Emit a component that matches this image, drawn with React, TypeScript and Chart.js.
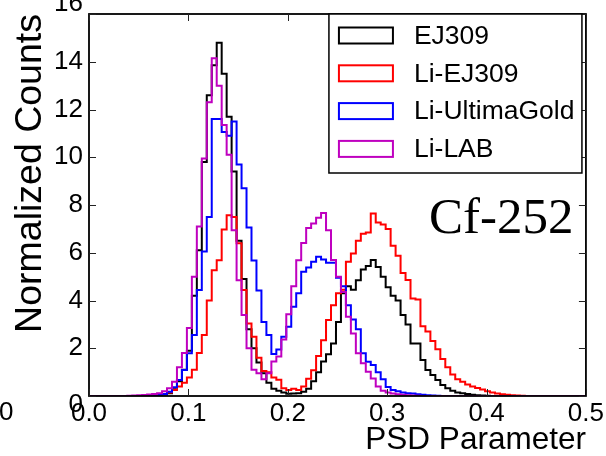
import React, { useEffect, useRef } from 'react';
import { Chart, registerables } from 'chart.js';

Chart.register(...registerables);

// Histogram binning (left edge of first bin, bin width)
const BIN_START = 0.0035;
const BIN_WIDTH = 0.005;

const X_TICKS = [0, 0.1, 0.2, 0.3, 0.4, 0.5];
const Y_TICKS = [0, 2, 4, 6, 8, 10, 12, 14, 16];

const SERIES_NAMES = ['EJ309', 'Li-EJ309', 'Li-UltimaGold', 'Li-LAB'];
const SERIES_COLORS = ['#000000', '#ff0000', '#0000ff', '#bf00bf'];

const EJ309 = [
  0, 0, 0, 0, 0, 0, 0, 0, 0, 0, 0,
  0.01, 0.02, 0.03, 0.06, 0.12, 0.28, 0.62, 1.1, 1.9,
  4.2, 6.1, 9.8, 12.6, 13.85, 14.8, 13.5, 11.7, 9.4, 6.5,
  4.9, 2.8, 2.0, 1.4, 0.95, 0.55, 0.3, 0.22, 0.15, 0.09,
  0.1, 0.12, 0.18, 0.3, 0.62, 1.0, 1.45, 1.75, 2.2, 3.1,
  4.3, 4.6, 4.45, 4.85, 5.3, 5.45, 5.7, 5.4, 5.0, 4.55,
  4.2, 4.0, 3.39, 3.0, 2.2, 2.2, 1.51, 1.09, 0.88, 0.67,
  0.46, 0.32, 0.22, 0.15, 0.11, 0.08, 0.05, 0.03, 0.02, 0.01,
  0, 0, 0, 0, 0, 0, 0, 0, 0, 0,
];

const LI_EJ309 = [
  0, 0, 0, 0, 0, 0, 0, 0, 0, 0, 0,
  0.01, 0.02, 0.04, 0.08, 0.15, 0.25, 0.4, 0.55, 0.78,
  1.1, 1.8, 2.55, 4.0, 5.27, 5.69, 6.97, 7.57, 7.5, 6.4,
  4.44, 3.04, 2.48, 1.6, 1.05, 1.0, 0.78, 0.68, 0.32, 0.25,
  0.3, 0.25, 0.4, 0.72, 1.08, 1.68, 2.34, 3.18, 3.8, 4.3,
  4.45, 5.62, 5.97, 6.5, 6.8, 6.85, 7.64, 7.27, 7.18, 6.99,
  6.29, 5.87, 5.15, 4.86, 4.08, 4.04, 2.92, 2.7, 2.3, 1.96,
  1.55, 1.2, 0.9, 0.7, 0.6, 0.48, 0.4, 0.33, 0.27, 0.2,
  0.15, 0.1, 0.07, 0.05, 0.03, 0.02, 0.01, 0, 0, 0,
];

const LI_ULTIMAGOLD = [
  0, 0, 0, 0, 0, 0, 0, 0, 0, 0, 0,
  0.01, 0.02, 0.04, 0.08, 0.18, 0.37, 0.67, 1.09, 1.79,
  2.55, 4.44, 6.05, 7.5, 11.6, 11.6, 11.06, 10.9, 11.5, 9.7,
  8.7, 7.06, 5.68, 4.42, 3.1, 2.55, 1.76, 1.95, 2.48, 2.9,
  3.74, 4.3, 5.2, 5.38, 5.62, 5.83, 5.72, 5.58, 5.58, 4.95,
  4.6, 3.8, 3.2, 2.8, 1.79, 1.43, 1.3, 1.0, 0.7, 0.38,
  0.25, 0.2, 0.15, 0.12, 0.1, 0.07, 0.05, 0.03, 0.02, 0.01,
  0, 0, 0, 0, 0, 0, 0, 0, 0, 0,
  0, 0, 0, 0, 0, 0, 0, 0, 0, 0,
];

const LI_LAB = [
  0, 0, 0, 0, 0, 0, 0,
  0.01, 0.02, 0.03, 0.04,
  0.06, 0.08, 0.12, 0.2, 0.32, 0.6, 1.2, 1.8, 2.85,
  5.0, 7.1, 9.95, 12.3, 14.15, 13.0, 11.35, 10.1, 6.94, 4.85,
  3.39, 2.0, 1.1, 0.95, 0.7, 0.95, 1.44, 1.65, 2.37, 3.42,
  4.6, 5.69, 6.41, 7.04, 7.22, 7.47, 7.67, 6.94, 5.7, 5.0,
  4.36, 3.32, 2.62, 1.79, 1.37, 1.02, 0.73, 0.4, 0.22, 0.15,
  0.1, 0.07, 0.05, 0.03, 0.02, 0.01, 0, 0, 0, 0,
  0, 0, 0, 0, 0, 0, 0, 0, 0, 0,
  0, 0, 0, 0, 0, 0, 0, 0, 0, 0,
];

const SERIES_VALUES = [EJ309, LI_EJ309, LI_ULTIMAGOLD, LI_LAB];

const ANNOTATION = 'Cf-252';
const X_TITLE = 'PSD Parameter';
const Y_TITLE = 'Normalized Counts';

const SANS = '"Liberation Sans", Arial, Helvetica, sans-serif';
const SERIF = '"Liberation Serif", "Times New Roman", serif';

function toSteps(vals: number[]) {
  const pts: { x: number; y: number }[] = [{ x: 0, y: 0 }];
  vals.forEach((v, k) => pts.push({ x: BIN_START + k * BIN_WIDTH, y: v }));
  pts.push({ x: BIN_START + vals.length * BIN_WIDTH, y: 0 });
  pts.push({ x: 0.5, y: 0 });
  return pts;
}

const TICK_LEN = 7;

const overlay = {
  id: 'overlay',
  afterDatasetsDraw(chart: any) {
    const { ctx, chartArea: a, scales } = chart;
    const xs = scales.x;
    const ys = scales.y;
    ctx.save();
    // frame
    ctx.strokeStyle = '#000';
    ctx.lineWidth = 1.8;
    ctx.strokeRect(a.left, a.top, a.right - a.left, a.bottom - a.top);
    // inward ticks on all sides
    ctx.lineWidth = 1;
    ctx.strokeStyle = '#222';
    ctx.beginPath();
    for (const t of X_TICKS) {
      const px = Math.round(xs.getPixelForValue(t)) + 0.5;
      ctx.moveTo(px, a.bottom);
      ctx.lineTo(px, a.bottom - TICK_LEN);
      ctx.moveTo(px, a.top);
      ctx.lineTo(px, a.top + TICK_LEN);
    }
    for (const t of Y_TICKS) {
      const py = Math.round(ys.getPixelForValue(t)) + 0.5;
      ctx.moveTo(a.left, py);
      ctx.lineTo(a.left + TICK_LEN, py);
      ctx.moveTo(a.right, py);
      ctx.lineTo(a.right - TICK_LEN, py);
    }
    ctx.stroke();

    // y tick labels
    ctx.fillStyle = '#000';
    ctx.font = `26px ${SANS}`;
    ctx.textAlign = 'right';
    ctx.textBaseline = 'middle';
    for (const t of Y_TICKS) {
      let py = ys.getPixelForValue(t);
      if (t === Y_TICKS[0]) py += 9;
      if (t === Y_TICKS[Y_TICKS.length - 1]) py -= 10;
      ctx.fillText(String(t), a.left - 6, py);
    }
    // clipped neighbour label at far left
    ctx.textAlign = 'left';
    ctx.fillText('0', -1, ys.getPixelForValue(0) + 17);

    // legend
    const lx0 = a.right - 257;
    const ly0 = a.top;
    const lw = 253;
    const lh = 159;
    ctx.fillStyle = '#fff';
    ctx.fillRect(lx0, ly0, lw, lh);
    ctx.strokeStyle = '#000';
    ctx.lineWidth = 1.5;
    ctx.strokeRect(lx0, ly0, lw, lh);
    ctx.font = `26.5px ${SANS}`;
    ctx.textAlign = 'left';
    ctx.textBaseline = 'middle';
    SERIES_NAMES.forEach((name, i) => {
      const cy = ly0 + 21.5 + 37.8 * i;
      ctx.strokeStyle = SERIES_COLORS[i];
      ctx.lineWidth = 2;
      ctx.strokeRect(lx0 + 10, cy - 8, 54, 16);
      ctx.fillStyle = '#000';
      ctx.fillText(name, lx0 + 85, cy + 1);
    });

    // annotation
    ctx.font = `51px ${SERIF}`;
    ctx.textAlign = 'left';
    ctx.textBaseline = 'alphabetic';
    ctx.fillStyle = '#000';
    ctx.fillText(ANNOTATION, a.right - 157, a.top + 219);
    ctx.restore();
  },
};

export default function App() {
  const ref = useRef<HTMLCanvasElement>(null);
  useEffect(() => {
    document.body.style.margin = '0';
    const canvas = ref.current!;
    const chart = new Chart(canvas, {
      type: 'line',
      data: {
        datasets: SERIES_NAMES.map((name, i) => ({
          label: name,
          data: toSteps(SERIES_VALUES[i]),
          borderColor: SERIES_COLORS[i],
          backgroundColor: SERIES_COLORS[i],
          borderWidth: 2,
          stepped: true,
          pointRadius: 0,
          fill: false,
          order: SERIES_NAMES.length - i,
        })),
      },
      options: {
        responsive: false,
        animation: false,
        devicePixelRatio: 1,
        layout: { padding: { top: 14, right: 17, left: 0, bottom: 0 }, autoPadding: false },
        plugins: { legend: { display: false }, tooltip: { enabled: false } },
        scales: {
          x: {
            type: 'linear',
            min: 0,
            max: 0.5,
            afterFit: (s: any) => { s.height = 60; },
            afterBuildTicks: (s: any) => { s.ticks = X_TICKS.map((v) => ({ value: v })); },
            grid: { display: false, drawTicks: false },
            border: { display: false },
            ticks: {
              font: { family: SANS, size: 26 },
              color: '#000',
              padding: 2,
              maxRotation: 0,
              autoSkip: false,
              callback: (v: any) => Number(v).toFixed(1),
            },
            title: {
              display: true,
              text: X_TITLE,
              align: 'end',
              color: '#000',
              font: { family: SANS, size: 31.5, lineHeight: 1 },
              padding: { top: 0, bottom: 0 },
            },
          },
          y: {
            type: 'linear',
            min: 0,
            max: 16,
            afterFit: (s: any) => { s.width = 89; },
            grid: { display: false, drawTicks: false },
            border: { display: false },
            ticks: { display: false },
            title: {
              display: true,
              text: Y_TITLE,
              align: 'end',
              color: '#000',
              font: { family: SANS, size: 37.5, lineHeight: 1 },
              padding: { top: 12, bottom: 0 },
            },
          },
        },
      } as any,
      plugins: [overlay],
    });
    return () => chart.destroy();
  }, []);
  return (
    <div style={{ width: 606, height: 456 }}>
      <canvas ref={ref} width={606} height={456} style={{ display: 'block', width: 606, height: 456 }} />
    </div>
  );
}
